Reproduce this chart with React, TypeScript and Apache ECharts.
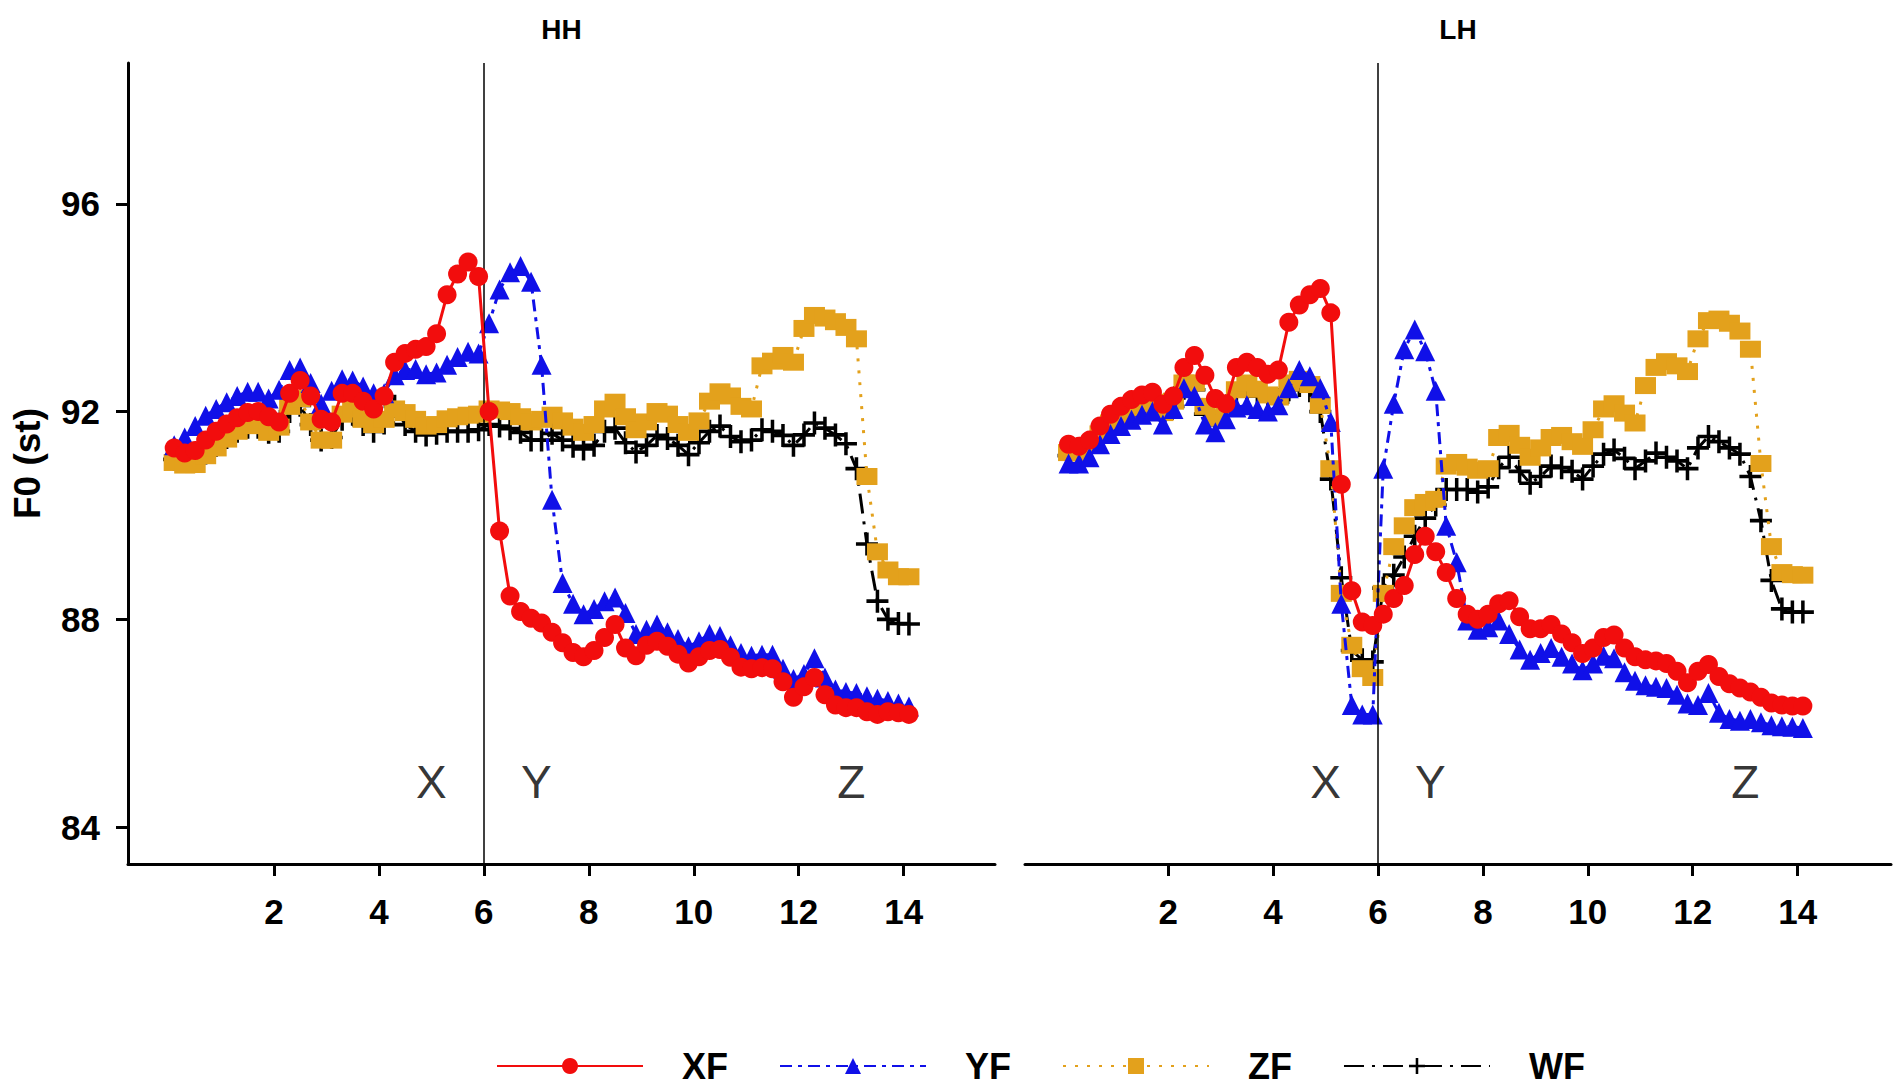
import React, { useEffect, useRef } from "react";
import * as echarts from "echarts";

// time points (shared by all series)
const X = [
  0.1, 0.3, 0.5, 0.7, 0.9, 1.1, 1.3, 1.5, 1.7, 1.9,
  2.1, 2.3, 2.5, 2.7, 2.9, 3.1, 3.3, 3.5, 3.7, 3.9,
  4.1, 4.3, 4.5, 4.7, 4.9, 5.1, 5.3, 5.5, 5.7, 5.9,
  6.1, 6.3, 6.5, 6.7, 6.9, 7.1, 7.3, 7.5, 7.7, 7.9,
  8.1, 8.3, 8.5, 8.7, 8.9, 9.1, 9.3, 9.5, 9.7, 9.9,
  10.1, 10.3, 10.5, 10.7, 10.9, 11.1, 11.3, 11.5, 11.7, 11.9,
  12.1, 12.3, 12.5, 12.7, 12.9, 13.1, 13.3, 13.5, 13.7, 13.9,
  14.1,
];

// HH panel
const HH_XF = [
  91.3, 91.2, 91.25, 91.45, 91.62, 91.76, 91.88, 91.98, 92.0, 91.9,
  91.8, 92.35, 92.6, 92.3, 91.85, 91.8, 92.35, 92.35, 92.2, 92.05,
  92.3, 92.95, 93.12, 93.2, 93.25, 93.5, 94.25, 94.65, 94.88, 94.6,
  92.0, 89.7, 88.45, 88.15, 88.02, 87.93, 87.75, 87.55, 87.36, 87.28,
  87.4, 87.65, 87.9, 87.45, 87.3, 87.5, 87.58, 87.48, 87.33, 87.16,
  87.28, 87.4, 87.42, 87.27, 87.08, 87.05, 87.07, 87.05, 86.8, 86.5,
  86.7, 86.88, 86.55, 86.35, 86.3, 86.3, 86.22, 86.17, 86.22, 86.2,
  86.17,
];
const HH_YF = [
  91.35, 91.5, 91.72, 91.92, 92.05, 92.18, 92.3, 92.38, 92.38, 92.25,
  92.42, 92.8, 92.85, 92.55, 92.15, 92.4, 92.62, 92.6, 92.48, 92.35,
  92.35, 92.7, 92.8, 92.82, 92.72, 92.75, 92.9, 93.05, 93.15, 93.12,
  93.7, 94.35, 94.68, 94.8, 94.5, 92.9, 90.3, 88.7, 88.3, 88.1,
  88.2, 88.35, 88.42, 88.12, 87.72, 87.8, 87.9, 87.75, 87.62, 87.48,
  87.58, 87.72, 87.68, 87.5, 87.35, 87.3, 87.32, 87.32, 87.05, 86.85,
  86.95, 87.25, 86.88, 86.65, 86.6, 86.58, 86.52, 86.47, 86.43, 86.38,
  86.32,
];
const HH_ZF = [
  91.02, 90.97, 90.98, 91.15, 91.3, 91.47, 91.62, 91.73, 91.73, 91.6,
  91.7, 92.1, 92.25, 91.8, 91.45, 91.45, 91.95, 92.05, 91.85, 91.75,
  91.85, 92.05, 91.98, 91.85, 91.72, 91.75, 91.86, 91.9, 91.93, 91.95,
  92.05, 92.03, 92.0, 91.9, 91.8, 91.85, 91.93, 91.82, 91.7, 91.6,
  91.75, 92.05, 92.18, 91.9, 91.65, 91.8, 92.0, 91.95, 91.75, 91.6,
  91.82, 92.2, 92.38, 92.3, 92.1, 92.05, 92.88, 92.97, 93.08, 92.95,
  93.6, 93.85, 93.8, 93.73, 93.62, 93.4, 90.75, 89.3, 88.95, 88.82,
  88.82,
];
const HH_WF = [
  91.08, 91.05, 91.05, 91.2, 91.35, 91.5, 91.62, 91.7, 91.7, 91.6,
  91.62, 92.0, 92.12, 91.75, 91.45, 91.5, 91.85, 91.95, 91.75, 91.62,
  91.78, 92.1, 91.75, 91.62, 91.55, 91.58, 91.62, 91.62, 91.62, 91.65,
  91.75, 91.72, 91.67, 91.6, 91.45, 91.45, 91.58, 91.45, 91.33, 91.28,
  91.35, 91.62, 91.68, 91.4, 91.22, 91.35, 91.54, 91.48, 91.35, 91.17,
  91.4, 91.62, 91.72, 91.52, 91.42, 91.45, 91.65, 91.62, 91.54, 91.35,
  91.55, 91.78, 91.68, 91.55, 91.38, 90.9, 89.45, 88.35, 88.0, 87.92,
  87.91,
];

// LH panel
const LH_XF = [
  91.37, 91.33, 91.45, 91.72, 91.95, 92.1, 92.23, 92.32, 92.37, 92.14,
  92.3, 92.85, 93.08, 92.7, 92.25, 92.15, 92.85, 92.95, 92.85, 92.72,
  92.8, 93.72, 94.05, 94.25, 94.37, 93.9, 90.6, 88.55, 87.95, 87.88,
  88.1, 88.4, 88.65, 89.25, 89.6, 89.3, 88.9, 88.4, 88.1, 88.0,
  88.1, 88.3, 88.36, 88.05, 87.82, 87.82, 87.9, 87.72, 87.55, 87.34,
  87.45, 87.65, 87.7, 87.45, 87.28, 87.22, 87.2, 87.15, 87.0, 86.78,
  87.0, 87.13, 86.9, 86.76, 86.68, 86.6, 86.5, 86.39, 86.35, 86.33,
  86.33,
];
const LH_YF = [
  91.0, 91.0, 91.12, 91.37, 91.57, 91.72, 91.84, 91.94, 92.0, 91.75,
  92.05, 92.45, 92.3, 91.75, 91.6, 91.85, 92.08, 92.12, 92.05, 92.0,
  92.12, 92.45, 92.8, 92.68, 92.45, 91.8, 88.3, 86.35, 86.17, 86.17,
  90.9, 92.15, 93.2, 93.58, 93.16, 92.4, 89.8, 89.1, 87.98, 87.8,
  87.85, 87.98, 87.72, 87.42, 87.22, 87.35, 87.45, 87.28, 87.15, 87.02,
  87.15, 87.3, 87.25, 86.98, 86.82, 86.73, 86.7, 86.68, 86.55, 86.38,
  86.35, 86.58, 86.2, 86.08, 86.05, 86.08, 86.02, 85.96, 85.94, 85.93,
  85.91,
];
const LH_ZF = [
  91.21, 91.2, 91.35, 91.57, 91.78, 91.9, 92.03, 92.12, 92.18, 91.98,
  92.2, 92.55, 92.55, 92.1, 91.88, 92.1, 92.42, 92.55, 92.43, 92.32,
  92.28, 92.55, 92.62, 92.52, 92.12, 90.9, 88.5, 87.5, 87.05, 86.88,
  88.5, 89.4, 89.8, 90.15, 90.25, 90.31, 90.95, 91.02, 90.93, 90.87,
  90.9, 91.5, 91.58, 91.35, 91.12, 91.3, 91.5, 91.54, 91.42, 91.33,
  91.65, 92.05, 92.15, 91.97, 91.78, 92.5, 92.85, 92.96, 92.88, 92.77,
  93.4, 93.75, 93.78, 93.7, 93.55, 93.2, 91.0, 89.4, 88.9, 88.86,
  88.85,
];
const LH_WF = [
  91.15, 91.12, 91.25, 91.48, 91.68, 91.8, 91.93, 92.02, 92.08, 91.88,
  92.1, 92.45, 92.42, 91.95, 91.75, 91.98, 92.3, 92.42, 92.3, 92.2,
  92.18, 92.42, 92.5, 92.4, 92.0, 90.7, 88.8, 87.4, 87.22, 87.18,
  88.6, 88.85, 89.2, 89.6, 89.95, 90.2, 90.5, 90.5, 90.5, 90.45,
  90.55, 90.92, 91.12, 90.85, 90.62, 90.75, 90.95, 90.92, 90.85, 90.7,
  90.95, 91.18, 91.26, 91.1, 90.9, 91.05, 91.2, 91.12, 91.05, 90.9,
  91.3, 91.52, 91.42, 91.3, 91.18, 90.75, 89.9, 88.75, 88.2, 88.14,
  88.14,
];

const PANEL_TITLES = ["HH", "LH"];
const SERIES_NAMES = ["XF", "YF", "ZF", "WF"];
const X_TICKS = [2, 4, 6, 8, 10, 12, 14];
const Y_TICKS = [84, 88, 92, 96];
const BOUNDARY_X = 6;
const SEGMENT_NAMES = ["X", "Y", "Z"];
const SEGMENT_X = [5, 7, 13];
const SEGMENT_Y = 84.87;

const FONT = "'Liberation Sans', Arial, Helvetica, sans-serif";
const PLUS = "path://M0,8.4H20V11.6H0ZM8.4,0H11.6V20H8.4Z";

const STYLES: any = {
  XF: { color: "#F20D0D", symbol: "circle", size: 19, dash: "solid", z: 5 },
  YF: { color: "#1010E8", symbol: "triangle", size: 20, dash: [12, 6, 4, 6], z: 4 },
  ZF: { color: "#E3A11C", symbol: "rect", size: [21, 17], dash: [3, 9], z: 3 },
  WF: { color: "#000000", symbol: PLUS, size: [22, 23], dash: [20, 8, 3, 8], z: 2 },
};

export default function App() {
  const ref = useRef<HTMLDivElement>(null);

  useEffect(() => {
    if (!ref.current) return;
    const chart = echarts.init(ref.current, null, { renderer: "svg" });

    const grids = [
      { left: 128, top: 63, width: 867, height: 801 },
      { left: 1025, top: 63, width: 866, height: 801 },
    ];
    const xRanges = [
      [-0.78, 15.74],
      [-0.73, 15.78],
    ];
    const panelData = [
      { XF: HH_XF, YF: HH_YF, ZF: HH_ZF, WF: HH_WF },
      { XF: LH_XF, YF: LH_YF, ZF: LH_ZF, WF: LH_WF },
    ];

    const series: any[] = [];
    panelData.forEach((pd: any, p) => {
      SERIES_NAMES.forEach((name) => {
        const st = STYLES[name];
        const s: any = {
          type: "line",
          name,
          xAxisIndex: p,
          yAxisIndex: p,
          data: X.map((x, i) => [x, pd[name][i]]),
          symbol: st.symbol,
          symbolSize: st.size,
          showAllSymbol: true,
          itemStyle: { color: st.color },
          lineStyle: { color: st.color, width: 3, type: st.dash },
          z: st.z,
          emphasis: { disabled: true },
          silent: true,
        };
        if (name === "XF") {
          s.markLine = {
            silent: true,
            symbol: ["none", "none"],
            label: { show: false },
            lineStyle: { color: "#000", width: 1.5, type: "solid" },
            data: [{ xAxis: BOUNDARY_X }],
          };
        }
        series.push(s);
      });
      series.push({
        type: "scatter",
        xAxisIndex: p,
        yAxisIndex: p,
        data: SEGMENT_NAMES.map((n, i) => ({
          value: [SEGMENT_X[i], SEGMENT_Y],
          label: { formatter: n },
        })),
        symbol: "circle",
        symbolSize: 1,
        itemStyle: { color: "rgba(0,0,0,0)" },
        label: {
          show: true,
          position: "inside",
          fontSize: 46,
          fontFamily: FONT,
          color: "#000",
        },
        silent: true,
        z: 1,
      });
    });

    const option: any = {
      animation: false,
      backgroundColor: "#fff",
      grid: grids,
      xAxis: grids.map((g, i) => ({
        type: "value",
        gridIndex: i,
        min: xRanges[i][0],
        max: xRanges[i][1],
        axisLine: { show: true, onZero: false, lineStyle: { color: "#000", width: 3 } },
        axisTick: { show: true, customValues: X_TICKS, length: 12, lineStyle: { color: "#000", width: 3 } },
        axisLabel: {
          show: true,
          customValues: X_TICKS,
          margin: 30,
          color: "#000",
          fontSize: 35,
          fontWeight: "bold",
          fontFamily: FONT,
        },
        splitLine: { show: false },
      })),
      yAxis: [
        {
          type: "value",
          gridIndex: 0,
          min: 83.29,
          max: 98.71,
          axisLine: { show: true, onZero: false, lineStyle: { color: "#000", width: 3 } },
          axisTick: { show: true, customValues: Y_TICKS, length: 12, lineStyle: { color: "#000", width: 3 } },
          axisLabel: {
            show: true,
            customValues: Y_TICKS,
            margin: 28,
            color: "#000",
            fontSize: 35,
            fontWeight: "bold",
            fontFamily: FONT,
          },
          splitLine: { show: false },
          name: "F0 (st)",
          nameLocation: "middle",
          nameRotate: 90,
          nameGap: 82,
          nameTextStyle: { fontSize: 37, fontWeight: "bold", fontFamily: FONT, color: "#000" },
        },
        {
          type: "value",
          gridIndex: 1,
          min: 83.29,
          max: 98.71,
          show: false,
          splitLine: { show: false },
        },
      ],
      legend: {
        data: SERIES_NAMES,
        left: 491,
        top: 1043,
        itemWidth: 146,
        itemHeight: 20,
        itemGap: 51,
        selectedMode: false,
        textStyle: {
          fontSize: 36,
          fontWeight: "bold",
          fontFamily: FONT,
          color: "#000",
          padding: [0, 0, 0, 34],
        },
      },
      graphic: PANEL_TITLES.map((t, i) => ({
        type: "text",
        x: grids[i].left + grids[i].width / 2,
        y: 29,
        style: {
          text: t,
          align: "center",
          verticalAlign: "middle",
          fontSize: 28,
          fontWeight: "bold",
          fontFamily: FONT,
          fill: "#000",
        },
      })),
      series,
    };

    chart.setOption(option);
    return () => chart.dispose();
  }, []);

  return (
    <div
      ref={ref}
      style={{ position: "fixed", left: 0, top: 0, width: 1902, height: 1086, background: "#fff" }}
    />
  );
}
